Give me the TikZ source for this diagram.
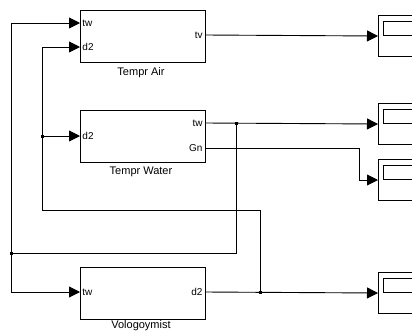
\documentclass[tikz,border=0pt]{standalone}
\usepackage{fontspec}
\setmainfont{Liberation Sans}
\usetikzlibrary{arrows.meta}
\begin{document}
\begin{tikzpicture}[x=1pt,y=-1pt,>={Triangle[length=11pt,width=11pt]},line width=0.9pt,
  blk/.style={draw,line width=1pt,minimum width=125pt,minimum height=52pt,anchor=north west,inner sep=0pt},
  scp/.style={draw,line width=1pt,minimum width=45pt,minimum height=41pt,anchor=north west,inner sep=0pt},
  screen/.style={draw,line width=1pt,minimum width=40pt,minimum height=14pt,anchor=north west,inner sep=0pt},
  port/.style={font=\fontsize{10}{11}\selectfont,inner sep=2pt},
  lbl/.style={font=\fontsize{11}{13}\selectfont,inner sep=0pt,anchor=north},
  dot/.style={fill,minimum size=3pt,inner sep=0pt}]
\useasboundingbox (0,0) rectangle (412,330);
% blocks
\node[blk] (air) at (80,10) {};
\node[blk] (water) at (80,110) {};
\node[blk] (volo) at (80,267) {};
\node[lbl] (airname) at (141,67) {Tempr Air};
\node[lbl] (watername) at (141,166) {Tempr Water};
\node[lbl] (voloname) at (141,320) {Vologoymist};
% ports
\node[port,anchor=west] (airtw) at (80,23) {tw};
\node[port,anchor=west] (aird2) at (80,47) {d2};
\node[port,anchor=east] (airtv) at (205,35) {tv};
\node[port,anchor=west] (waterd2) at (80,136) {d2};
\node[port,anchor=east] (watertw) at (205,123) {tw};
\node[port,anchor=east] (watergn) at (205,148) {Gn};
\node[port,anchor=west] (volotw) at (80,292) {tw};
\node[port,anchor=east] (volod2) at (205,292) {d2};
% scopes
\foreach \n/\y in {1/15,2/103,3/159,4/272}{
  \node[scp] (sc\n) at (378,\y) {};
  \node[screen] (scr\n) at ([shift={(5,6)}]sc\n.north west) {};
}
% junctions
\node[dot] (j1) at (236,123) {};
\node[dot] (j2) at (11,253) {};
\node[dot] (j3) at (260,292) {};
\node[dot] (j4) at (42,136) {};
% wires
\draw[->] (airtv.east) -- (sc1.west);
\draw[->] (watertw.east) -- (sc2.west);
\draw[->] (watergn.east) -- (359,148) |- (sc3.west);
\draw[->] (volod2.east) -- (sc4.west);
\draw (j1.center) -- (236,253) -- (j2.center);
\draw[->] (j2.center) |- (airtw.west);
\draw[->] (j2.center) |- (volotw.west);
\draw (j3.center) -- (260,210) -| (j4.center);
\draw[->] (j4.center) |- (aird2.west);
\draw[->] (j4.center) -- (waterd2.west);
\end{tikzpicture}
\end{document}
